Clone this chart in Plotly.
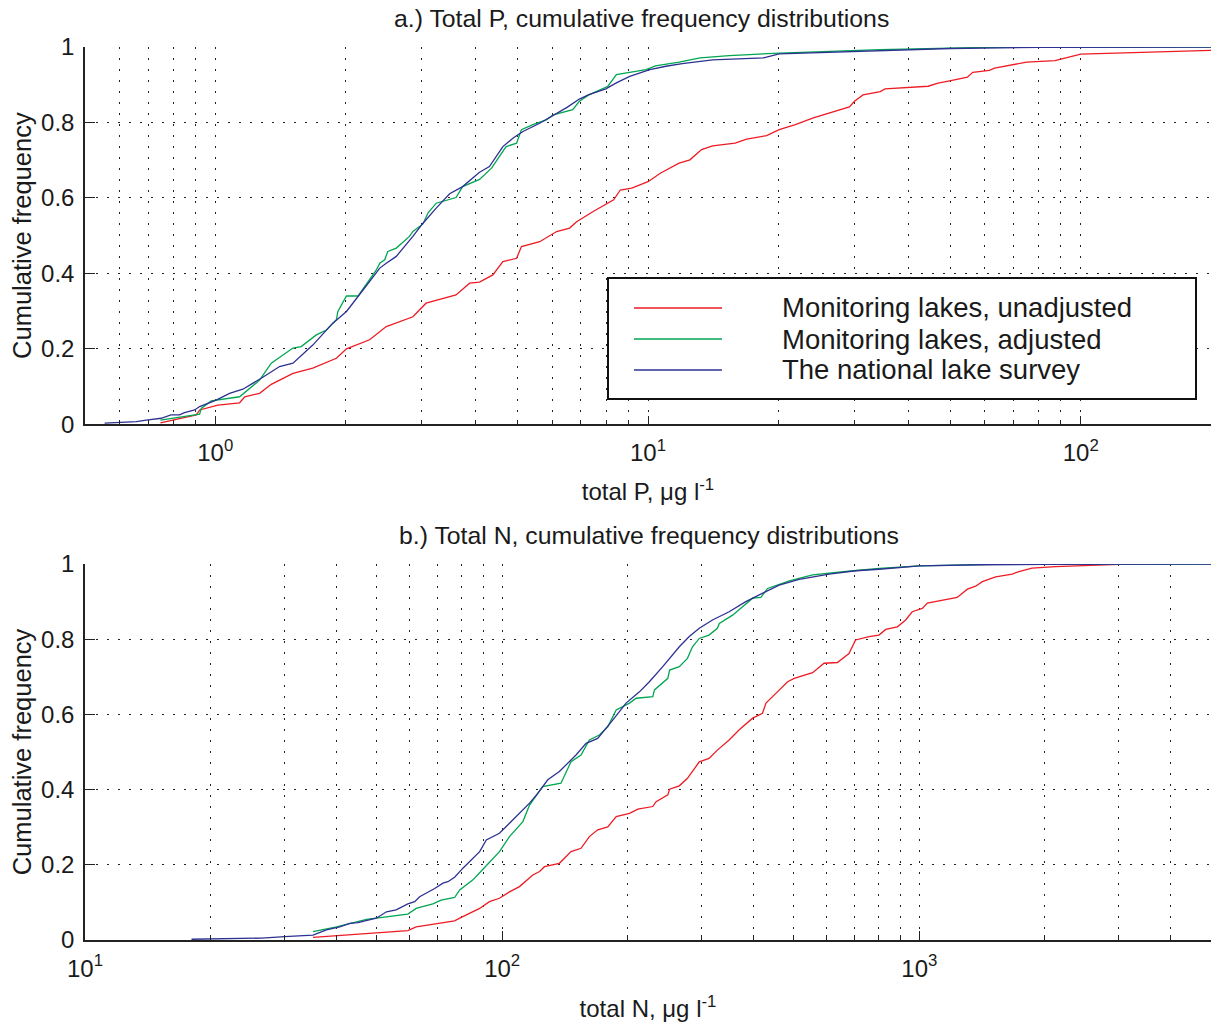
import math
import plotly.graph_objects as go

# ---------------- data ----------------
series_names = ["Monitoring lakes, unadjusted", "Monitoring lakes, adjusted", "The national lake survey"]
series_colors = ["#ED1C24", "#00A651", "#2E3192"]

# a.) Total P (ug/l) vs cumulative frequency
P_unadj_x = [0.747, 0.904, 0.92, 1.014, 1.138, 1.17, 1.266, 1.347, 1.512, 1.68, 1.905, 2.01, 2.273, 2.484, 2.862,
             3.07, 3.6, 3.87, 4.08, 4.38, 4.62, 4.97, 5.1, 5.62, 6.15, 6.59, 6.84, 7.47, 8.33, 8.63, 9.17, 10.0,
             10.7, 11.8, 12.5, 13.3, 14.1, 15.9, 16.9, 18.8, 20.1, 21.9, 24.1, 26.3, 29.2, 30.0, 31.4, 34.4, 35.3,
             44.4, 46.8, 50.1, 54.7, 56.3, 61.5, 63.2, 69.8, 75.0, 87.2, 92.8, 100, 200]
P_unadj_F = [0.004, 0.025, 0.038, 0.051, 0.057, 0.073, 0.082, 0.106, 0.135, 0.149, 0.175, 0.2, 0.224, 0.259, 0.285,
             0.321, 0.343, 0.374, 0.377, 0.396, 0.431, 0.44, 0.471, 0.484, 0.511, 0.52, 0.537, 0.564, 0.595, 0.621,
             0.626, 0.643, 0.666, 0.692, 0.701, 0.728, 0.738, 0.745, 0.756, 0.765, 0.781, 0.794, 0.812, 0.825,
             0.841, 0.856, 0.873, 0.882, 0.889, 0.896, 0.904, 0.911, 0.92, 0.933, 0.938, 0.944, 0.953, 0.96,
             0.964, 0.971, 0.981, 0.991]

P_adj_x = [0.747, 0.92, 0.928, 0.979, 1.138, 1.266, 1.347, 1.433, 1.512, 1.58, 1.712, 1.806, 1.905, 1.92, 2.01,
           2.137, 2.356, 2.4, 2.463, 2.505, 2.62, 2.81, 2.862, 3.02, 3.1, 3.24, 3.6, 3.73, 4.08, 4.35, 4.58, 4.7,
           4.97, 5.1, 5.42, 5.82, 6.04, 6.7, 6.94, 7.3, 8.08, 8.45, 9.07, 9.9, 10.4, 11.8, 13.2, 15.4, 20.1, 34.4,
           60, 200]
P_adj_F = [0.011, 0.027, 0.042, 0.062, 0.073, 0.117, 0.162, 0.184, 0.202, 0.206, 0.237, 0.25, 0.277, 0.299, 0.34,
           0.34, 0.409, 0.427, 0.436, 0.458, 0.467, 0.498, 0.511, 0.531, 0.56, 0.586, 0.601, 0.63, 0.649, 0.679,
           0.719, 0.736, 0.745, 0.781, 0.794, 0.807, 0.82, 0.834, 0.856, 0.873, 0.896, 0.927, 0.933, 0.94, 0.95,
           0.96, 0.971, 0.977, 0.984, 0.993, 0.999, 1.0]

P_nat_x = [0.555, 0.657, 0.693, 0.75, 0.79, 0.827, 0.849, 0.896, 0.92, 1.005, 1.079, 1.158, 1.277, 1.408, 1.512,
           1.68, 1.869, 2.01, 2.195, 2.4, 2.484, 2.62, 2.862, 3.02, 3.24, 3.48, 3.73, 4.08, 4.3, 4.62, 4.88, 5.14,
           5.62, 5.98, 6.5, 6.94, 7.3, 7.99, 8.45, 9.07, 9.6, 10.1, 11.0, 12.0, 14.1, 18.5, 20.1, 34.4, 50, 80, 200]
P_nat_F = [0.003, 0.007, 0.011, 0.016, 0.025, 0.025, 0.031, 0.038, 0.047, 0.064, 0.082, 0.093, 0.122, 0.153, 0.162,
           0.21, 0.268, 0.299, 0.356, 0.414, 0.427, 0.445, 0.498, 0.533, 0.573, 0.611, 0.63, 0.668, 0.683, 0.736,
           0.759, 0.776, 0.798, 0.815, 0.84, 0.862, 0.874, 0.889, 0.905, 0.922, 0.931, 0.94, 0.949, 0.956, 0.966,
           0.971, 0.982, 0.991, 0.996, 0.999, 1.0]

# b.) Total N (ug/l) vs cumulative frequency
N_unadj_x = [35.2, 59.4, 62.2, 69.5, 76.9, 79.1, 88.3, 93.2, 98.5, 104.1, 110, 118.4, 122.9, 126.3, 137.1, 146.2,
             154.5, 161.8, 169.4, 179.1, 187.6, 201.9, 211.4, 229.6, 233.8, 249.5, 251.9, 265.8, 278, 296.8, 313.2,
             327.9, 349.9, 370, 398.4, 420.7, 428.8, 452.9, 483.1, 501.2, 554.7, 591, 636, 678, 703, 757.5, 800,
             830.7, 885.6, 927, 961, 1016, 1045, 1232, 1303, 1364, 1415, 1523, 1669, 1732, 1862, 2118, 3008]
N_unadj_F = [0.007, 0.025, 0.035, 0.044, 0.051, 0.058, 0.084, 0.102, 0.111, 0.128, 0.142, 0.173, 0.182, 0.195,
             0.204, 0.235, 0.244, 0.275, 0.293, 0.301, 0.328, 0.337, 0.348, 0.355, 0.368, 0.386, 0.401, 0.41, 0.43,
             0.474, 0.483, 0.505, 0.532, 0.559, 0.59, 0.603, 0.63, 0.656, 0.687, 0.696, 0.711, 0.736, 0.738, 0.762,
             0.798, 0.807, 0.811, 0.826, 0.833, 0.851, 0.873, 0.882, 0.896, 0.911, 0.933, 0.941, 0.953, 0.966,
             0.973, 0.98, 0.989, 0.993, 0.999]

N_adj_x = [35.2, 40.1, 47.3, 59.4, 62.2, 68.2, 71.4, 76.9, 79.1, 85.1, 88.3, 93.2, 98.5, 104.1, 112.1, 116.3,
           119.5, 125, 138.3, 146.2, 154.5, 161.8, 171, 179.1, 187.6, 201.9, 209.5, 229.6, 231.7, 249.5, 251.9,
           265.8, 278, 285.8, 296.8, 313.2, 327.9, 331.5, 356.6, 376.8, 398.4, 417, 432.5, 487.8, 554.7, 665.4,
           800, 1000, 1500, 5000]
N_adj_F = [0.022, 0.035, 0.055, 0.069, 0.084, 0.096, 0.106, 0.113, 0.133, 0.16, 0.179, 0.208, 0.235, 0.275,
           0.315, 0.359, 0.377, 0.408, 0.417, 0.474, 0.492, 0.532, 0.545, 0.567, 0.612, 0.63, 0.643, 0.647, 0.665,
           0.696, 0.718, 0.727, 0.749, 0.78, 0.802, 0.811, 0.829, 0.842, 0.864, 0.886, 0.909, 0.911, 0.935, 0.955,
           0.971, 0.98, 0.988, 0.995, 0.999, 1.0]

N_nat_x = [18.0, 26.5, 30.1, 35.2, 37.9, 40.8, 43.1, 45.1, 49.9, 52.8, 55.7, 59.4, 61.7, 63.4, 68.9, 72.1, 74.1,
           76.9, 80.5, 88.3, 91.6, 98.5, 103.1, 110, 116.3, 121.7, 128.6, 137.1, 150.3, 158.9, 169.4, 184, 198.1,
           213.3, 225.3, 242.6, 265.8, 280.8, 296.8, 319.2, 349.9, 383.6, 420.7, 461.2, 515, 607.5, 703.3, 800.6,
           1000, 1400, 2000, 5000]
N_nat_F = [0.002, 0.005, 0.009, 0.013, 0.027, 0.035, 0.044, 0.046, 0.058, 0.075, 0.08, 0.096, 0.102, 0.115, 0.137,
           0.151, 0.155, 0.167, 0.191, 0.235, 0.266, 0.284, 0.306, 0.337, 0.364, 0.39, 0.426, 0.448, 0.492, 0.523,
           0.536, 0.585, 0.63, 0.66, 0.687, 0.727, 0.78, 0.807, 0.829, 0.851, 0.873, 0.9, 0.922, 0.944, 0.959,
           0.973, 0.982, 0.986, 0.995, 0.998, 0.999, 1.0]

# axis ranges and ticks
P_range = [0.5, 200]
N_range = [10, 5000]
P_major = [1, 10, 100]
P_major_text = ["10<sup>0</sup>", "10<sup>1</sup>", "10<sup>2</sup>"]
N_major = [10, 100, 1000]
N_major_text = ["10<sup>1</sup>", "10<sup>2</sup>", "10<sup>3</sup>"]
P_minor = [0.6, 0.7, 0.8, 0.9] + [m * 10 ** e for e in (0, 1) for m in range(2, 10)] + [200]
N_minor = [m * 10 ** e for e in (1, 2) for m in range(2, 10)] + [2000, 3000, 4000, 5000]

title_a = "a.) Total P, cumulative frequency distributions"
title_b = "b.) Total N, cumulative frequency distributions"
xlabel_a = "total P, μg l<sup>-1</sup>"
xlabel_b = "total N, μg l<sup>-1</sup>"
ylabel = "Cumulative frequency"

# ---------------- figure ----------------
FONT = "Arial, 'Liberation Sans', Helvetica, sans-serif"
TXT = "#1a1a1a"
GRID = "#222222"
DASH = "2px,9px"

fig = go.Figure()
top = [(P_unadj_x, P_unadj_F), (P_adj_x, P_adj_F), (P_nat_x, P_nat_F)]
bot = [(N_unadj_x, N_unadj_F), (N_adj_x, N_adj_F), (N_nat_x, N_nat_F)]
for i, (xs, ys) in enumerate(top):
    fig.add_trace(go.Scatter(x=xs, y=ys, mode="lines", name=series_names[i],
                             line=dict(color=series_colors[i], width=1.3),
                             xaxis="x", yaxis="y", showlegend=False))
for i, (xs, ys) in enumerate(bot):
    fig.add_trace(go.Scatter(x=xs, y=ys, mode="lines", name=series_names[i],
                             line=dict(color=series_colors[i], width=1.3),
                             xaxis="x2", yaxis="y2", showlegend=False))


def xaxis_cfg(rng, major, major_text, minor, label, anchor, standoff):
    return dict(
        type="log", range=[math.log10(rng[0]) - 1e-6, math.log10(rng[1]) + 1e-6], domain=[0, 1], anchor=anchor,
        tickmode="array", tickvals=major, ticktext=major_text,
        ticks="inside", ticklen=9, tickwidth=1, tickcolor=GRID,
        showgrid=True, gridcolor=GRID, gridwidth=1, griddash=DASH,
        minor=dict(tickmode="array", tickvals=minor, ticks="inside", ticklen=5, tickwidth=1, tickcolor=GRID,
                   showgrid=True, gridcolor=GRID, gridwidth=1, griddash=DASH),
        showline=True, linecolor=GRID, linewidth=1.5, zeroline=False,
        tickfont=dict(family=FONT, size=24, color=TXT), ticklabelstandoff=6,
        title=dict(text=label, font=dict(family=FONT, size=24, color=TXT), standoff=standoff),
        automargin=False,
    )


def yaxis_cfg(domain, anchor):
    return dict(
        range=[0, 1], domain=domain, anchor=anchor, tickmode="linear", tick0=0, dtick=0.2,
        ticks="inside", ticklen=10, tickwidth=1, tickcolor=GRID,
        showgrid=True, gridcolor=GRID, gridwidth=1, griddash=DASH,
        showline=True, linecolor=GRID, linewidth=1.5, zeroline=False,
        tickfont=dict(family=FONT, size=24, color=TXT), ticklabelstandoff=4,
        title=dict(text=ylabel, font=dict(family=FONT, size=25.5, color=TXT), standoff=2),
        automargin=False,
    )


H_PLOT = 1025 - 47 - 85


def py(p):  # pixel row -> paper y
    return (940 - p) / H_PLOT


def px(p):  # pixel column -> paper x
    return (p - 85) / 1126


fig.update_layout(
    width=1215, height=1025,
    margin=dict(l=85, r=4, t=47, b=85),
    paper_bgcolor="white", plot_bgcolor="white",
    showlegend=False,
    font=dict(family=FONT, size=24, color=TXT),
    xaxis=xaxis_cfg(P_range, P_major, P_major_text, P_minor, xlabel_a, "y", 18),
    yaxis=yaxis_cfg([py(424.3), 1.0], "x"),
    xaxis2=xaxis_cfg(N_range, N_major, N_major_text, N_minor, xlabel_b, "y2", 20),
    yaxis2=yaxis_cfg([0.0, py(564)], "x2"),
)

annotations = [
    dict(text=title_a, x=px(641), y=py(19), xref="paper", yref="paper", xanchor="center", yanchor="middle",
         showarrow=False, font=dict(family=FONT, size=24.8, color=TXT)),
    dict(text=title_b, x=px(649), y=py(535), xref="paper", yref="paper", xanchor="center", yanchor="middle",
         showarrow=False, font=dict(family=FONT, size=24.8, color=TXT)),
]

# legend box (drawn like the original MATLAB legend)
shapes = [dict(type="rect", xref="paper", yref="paper", x0=px(608), x1=px(1196), y0=py(399), y1=py(278),
               line=dict(color="#111111", width=2), fillcolor="white", layer="above")]
rows = [308, 339, 370]
for i, name in enumerate(series_names):
    shapes.append(dict(type="line", xref="paper", yref="paper", x0=px(634), x1=px(722), y0=py(rows[i]),
                       y1=py(rows[i]), line=dict(color=series_colors[i], width=1.5), layer="above"))
    annotations.append(dict(text=name, x=px(780), y=py(rows[i]), xref="paper", yref="paper", xanchor="left",
                            yanchor="middle", showarrow=False, font=dict(family=FONT, size=27.5, color=TXT)))

fig.update_layout(annotations=annotations, shapes=shapes)
fig.write_html("out.html")
